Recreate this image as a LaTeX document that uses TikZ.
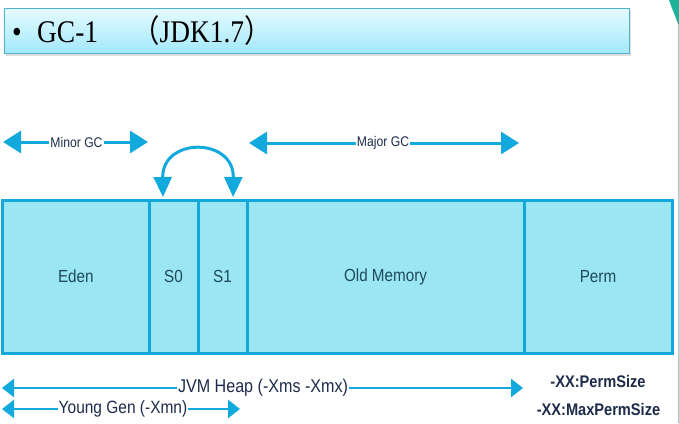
\documentclass[tikz,border=0pt]{standalone}
\usepackage{fontspec}
\setmainfont{Liberation Serif}
\setsansfont{Liberation Sans}
\newfontfamily\cjkfont{Noto Sans CJK SC}
\usetikzlibrary{arrows.meta,shadows}
\newcommand{\sqz}[1]{\scalebox{0.87}[1]{#1}}
\definecolor{arrowblue}{HTML}{12AADD}
\definecolor{boxfill}{HTML}{9BE6F3}
\definecolor{boxline}{HTML}{14A8DA}
\definecolor{boxtext}{HTML}{1E4A5A}
\definecolor{labeltext}{HTML}{1D2C4A}
\definecolor{titletop}{HTML}{E4FBFF}
\definecolor{titlebot}{HTML}{A3E8FB}
\definecolor{titleline}{HTML}{52B2CC}
\definecolor{edgeteal}{HTML}{86DCCB}
\definecolor{cornergreen}{HTML}{1DB39A}
\tikzset{
  region/.style={draw=boxline, line width=3pt, fill=boxfill, rectangle,
    minimum height=153pt, inner sep=0pt, text=boxtext,
    font=\sffamily\fontsize{17.5}{20}\selectfont},
  bigarrow/.style={draw=arrowblue, line width=3pt,
    -{Triangle[length=18pt,width=22pt]}},
  smallarrow/.style={draw=arrowblue, line width=2.8pt,
    -{Triangle[length=12pt,width=18pt]}},
  swaparrow/.style={draw=arrowblue, line width=3pt,
    {Triangle[length=20pt,width=18pt]}-{Triangle[length=20pt,width=18pt]}},
  gclabel/.style={inner sep=1pt, text=labeltext,
    font=\sffamily\fontsize{14}{16}\selectfont},
  sizelabel/.style={inner sep=1pt, text=labeltext,
    font=\sffamily\fontsize{18.5}{20}\selectfont},
  optlabel/.style={inner sep=0pt, text=labeltext,
    font=\sffamily\bfseries\fontsize{16.8}{18}\selectfont},
  titletext/.style={inner sep=0pt, text=black, font=\fontsize{31.5}{34}\selectfont},
}
\begin{document}
\begin{tikzpicture}[x=1pt,y=-1pt]
\useasboundingbox (0,0) rectangle (679,423);
\fill[white] (0,0) rectangle (679,423);
% decorations at the right edge
\draw[edgeteal, line width=1pt] (678,18) -- (678,423);
\fill[cornergreen] (669,0) .. controls (672,9) and (675,15) .. (678,24) -- (679,24) -- (679,0) -- cycle;
% title box
\node[draw=titleline, line width=1pt, top color=titletop, bottom color=titlebot,
  drop shadow={shadow xshift=1.5pt, shadow yshift=-2pt, opacity=0.25},
  minimum width=625pt, minimum height=45pt, anchor=north west, inner sep=0pt]
  (title) at (4,8) {};
\node[titletext, anchor=base] (bullet) at (17,42) {\sqz{•}};
\node[titletext, anchor=base west] (gc) at (37,42) {\sqz{GC-1}};
\node[titletext, anchor=base west] (jdk) at (132,42)
  {\sqz{{\cjkfont （}JDK1.7{\cjkfont ）}}};
% memory regions
\node[region, minimum width=146.3pt] (eden) at (75.85,276.5) {\sqz{Eden}};
\node[region, minimum width=49pt] (s0) at (173.5,276.5) {\sqz{S0}};
\node[region, minimum width=49pt] (s1) at (222.5,276.5) {\sqz{S1}};
\node[region, minimum width=277pt] (old) at (385.5,276.5) {\sqz{Old Memory}};
\node[region, minimum width=148pt] (perm) at (598,276.5) {\sqz{Perm}};
% swap arrow between S0 and S1
\coordinate (swapA) at (163,197);
\coordinate (swapB) at (233,197);
\draw[swaparrow] (swapA) .. controls (162,137) and (234,137) .. (swapB);
% Minor GC
\node[gclabel] (minor) at (76.5,142) {\sqz{Minor GC}};
\coordinate (minorL) at (3,142);
\coordinate (minorR) at (148,142);
\draw[bigarrow] (minor.west) -- (minorL);
\draw[bigarrow] (minor.east) -- (minorR);
% Major GC
\node[gclabel] (major) at (383,143) {\sqz{Major GC}};
\coordinate (majorL) at (249,143);
\coordinate (majorR) at (519,143);
\draw[bigarrow] (major.west) -- (majorL);
\draw[bigarrow] (major.east) -- (majorR);
% JVM heap
\node[sizelabel] (heap) at (263,388) {\sqz{JVM Heap (-Xms -Xmx)}};
\coordinate (heapL) at (2,388);
\coordinate (heapR) at (523,388);
\draw[smallarrow] (heap.west) -- (heapL);
\draw[smallarrow] (heap.east) -- (heapR);
% Young gen
\node[sizelabel, font=\sffamily\fontsize{17.8}{20}\selectfont] (young) at (123,409) {\sqz{Young Gen (-Xmn)}};
\coordinate (youngL) at (2,409);
\coordinate (youngR) at (240,409);
\draw[smallarrow] (young.west) -- (youngL);
\draw[smallarrow] (young.east) -- (youngR);
% perm options
\node[optlabel] (permsize) at (598,381.5) {\sqz{-XX:PermSize}};
\node[optlabel] (maxperm) at (598.5,409) {\sqz{-XX:MaxPermSize}};
\end{tikzpicture}
\end{document}
